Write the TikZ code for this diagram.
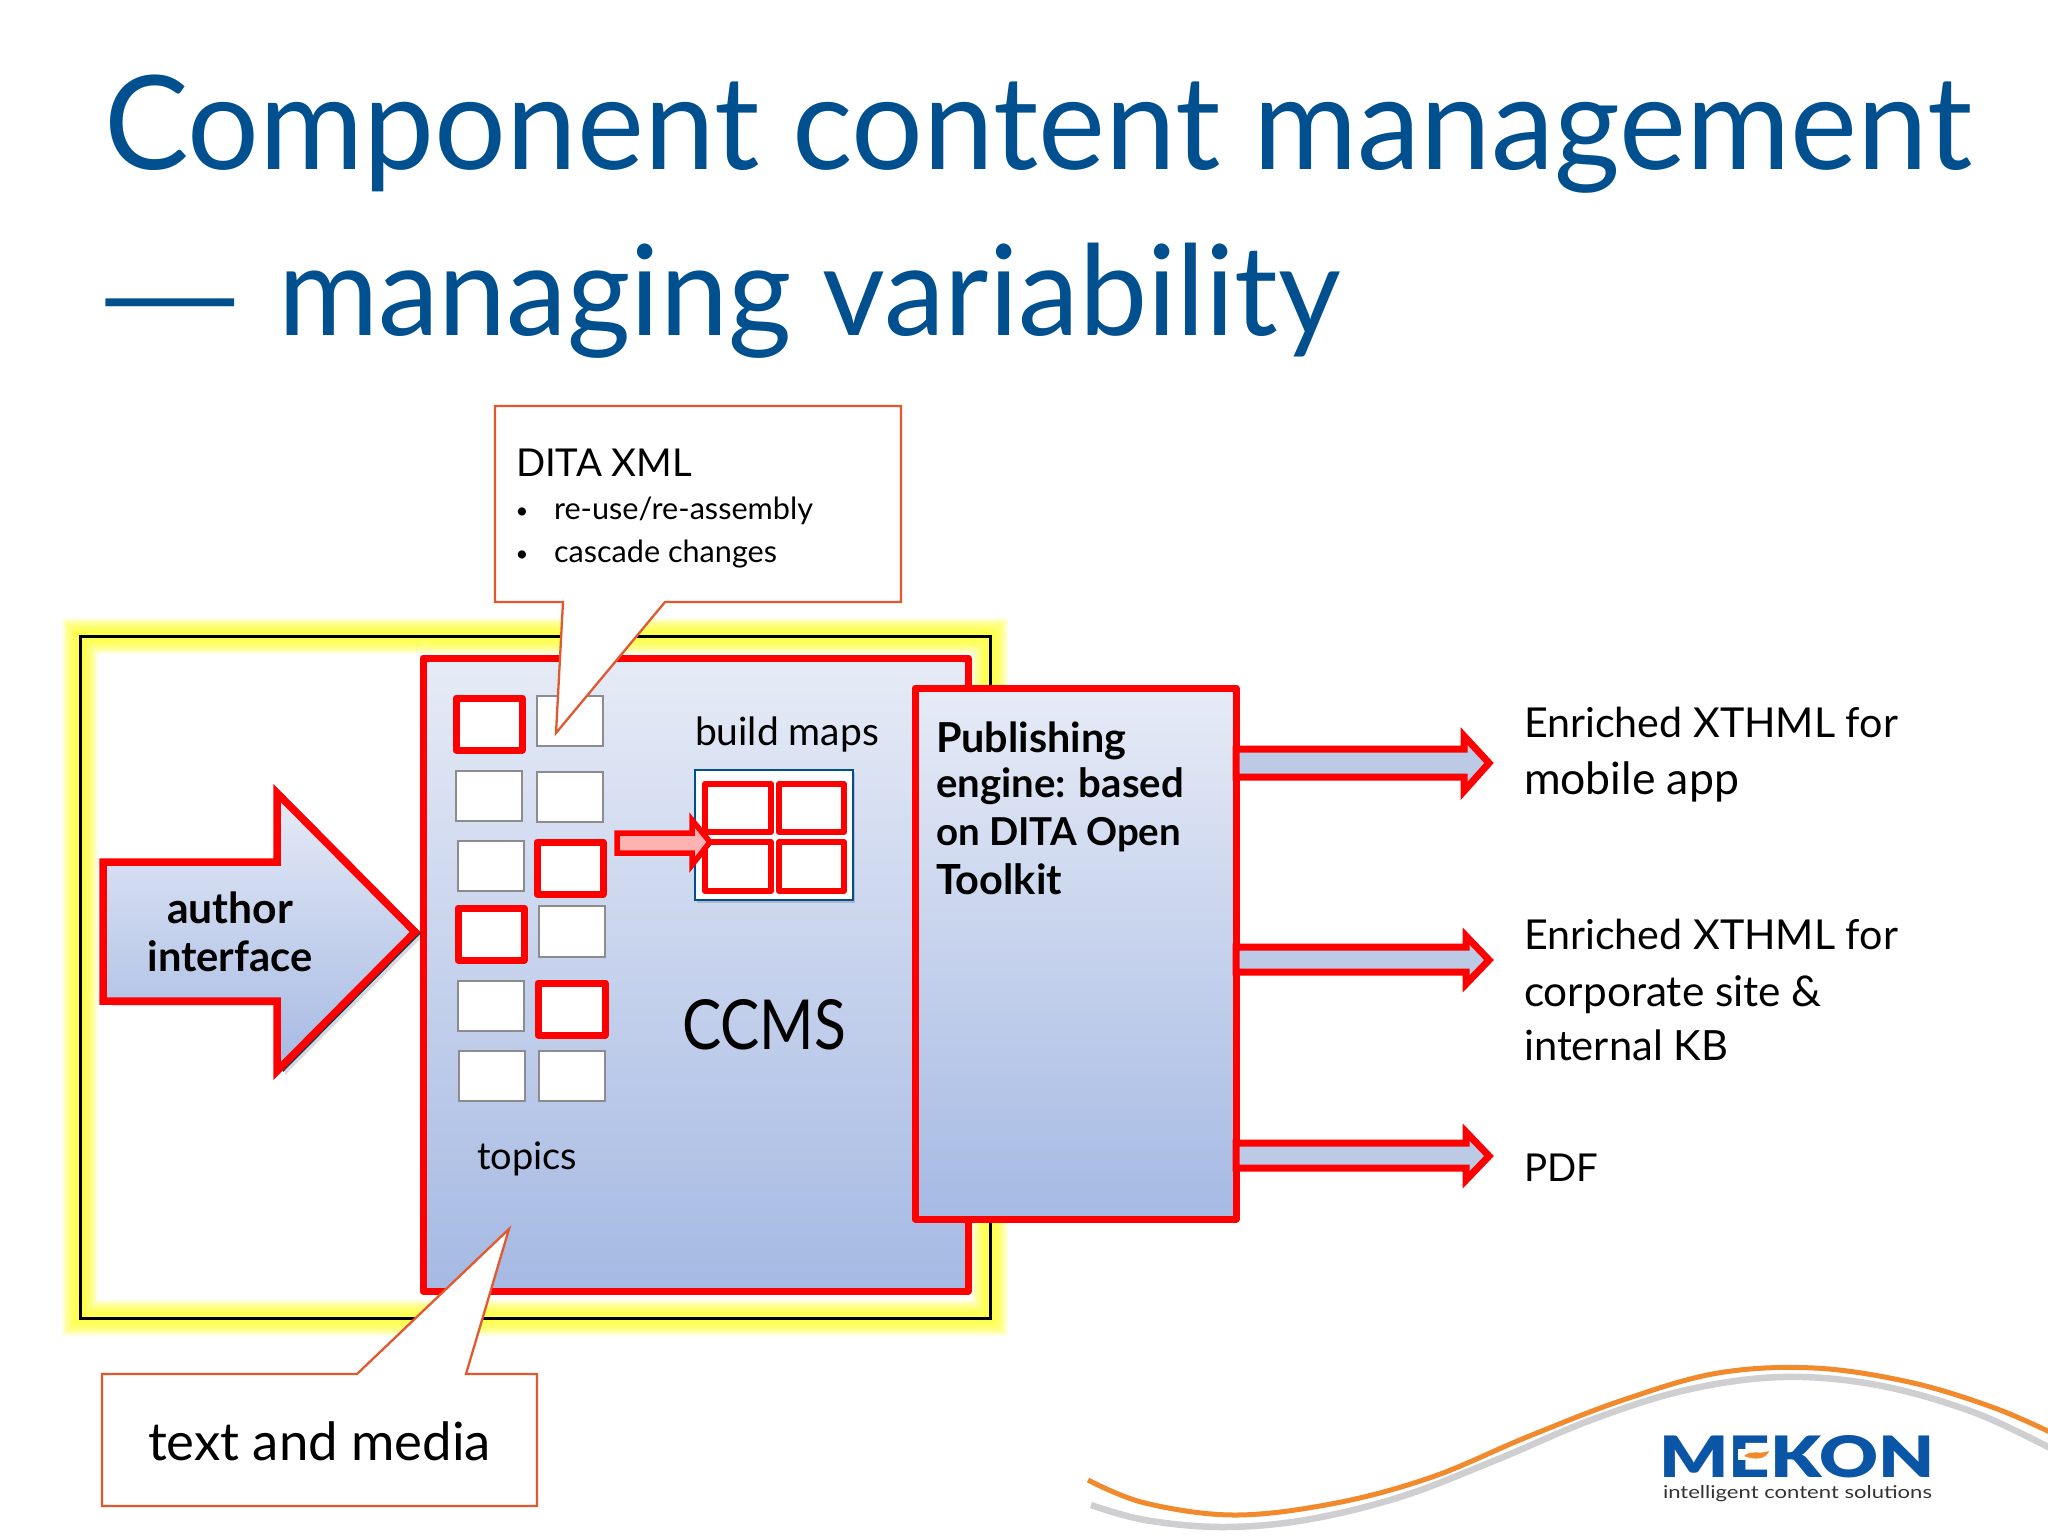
\documentclass[tikz,border=0pt]{standalone}
\usepackage{fontspec}
\usepackage{graphicx}
\setmainfont{Lato}
\newfontfamily\heavyfont{Lato Black}
\usetikzlibrary{shadows}
\definecolor{titleblue}{HTML}{00508F}
\definecolor{boxtop}{HTML}{E6EBF6}
\definecolor{boxbot}{HTML}{A5B9E3}
\definecolor{callout}{HTML}{E2592F}
\definecolor{shaft}{HTML}{BCCAE6}
\definecolor{logoblue}{HTML}{0A55A5}
\definecolor{swoosh}{HTML}{F08A2C}
\definecolor{swgray}{HTML}{CFCFD2}
\definecolor{glow}{HTML}{FFFF30}
\tikzset{
  softshadow/.style={drop shadow={shadow xshift=2pt,shadow yshift=-3pt,opacity=.15,fill=black}},
  redbox/.style={draw=red,line width=7pt,top color=boxtop,bottom color=boxbot,line join=round,softshadow},
  blockarrow/.style={draw=red,line width=7pt,fill=shaft,line join=miter,softshadow},
  graysq/.style={draw=gray!90,line width=2.5pt,fill=white},
  redsq/.style={draw=red,line width=7pt,fill=white,line join=round},
  mapsq/.style={draw=red,line width=6pt,fill=white,line join=round},
  mapbox/.style={draw=titleblue,line width=2.5pt,fill=white,softshadow},
  calloutshape/.style={draw=callout,line width=2.3pt,fill=white,line join=miter},
  base/.style={anchor=base west,inner sep=0pt,outer sep=0pt},
  framebox/.style={draw=black,line width=3pt,inner sep=0pt,outer sep=0pt},
  anybox/.style={inner sep=0pt,outer sep=0pt}
}
\newcommand{\placebox}[6]{\node[anybox,#2,anchor=north west,minimum width={(#5-#3)*1pt},minimum height={(#6-#4)*1pt}] (#1) at (#3,#4) {};}
\newcommand{\fit}[3]{\resizebox{#1pt}{!}{\fontsize{#2}{#2}\selectfont #3}}
\newcommand{\outarrow}[7]{\path[blockarrow] (pub.east |- 0,#2) -- (#4,#2) -- (#4,#3) -- (#5,#1) -- (#4,#6) -- (#4,#7) -- (pub.east |- 0,#7) -- cycle;}
\begin{document}
\begin{tikzpicture}[x=1pt,y=-1pt]
\useasboundingbox (0,0) rectangle (2048,1536);
\fill[white] (0,0) rectangle (2048,1536);
% title
\node[base,text=titleblue] (title1) at (104,169) {\scalebox{1}[1.03]{\fit{1868}{100}{Component content management}}};
\node[base,text=titleblue] (titledash) at (93,338) {\scalebox{1.6}[1]{\fit{96}{100}{—}}};
\node[base,text=titleblue] (title2) at (278,335) {\scalebox{1}[1.03]{\fit{1063}{100}{managing variability}}};
% yellow frame
\foreach \w in {36,34,32,30,28,26,24,22,20,18,16,14,12,10,8}{
  \draw[glow,line width=\w pt,opacity=.11] (80,636) rectangle (990,1318);
}
\placebox{frame}{framebox}{80}{636}{990}{1318}
% ccms
\placebox{ccms}{redbox}{423}{658}{968}{1291}
% author arrow
\path[fill=titleblue!70!black,softshadow] (110,864) -- (283,864) -- (283,794) -- (421,933) -- (283,1072) -- (283,1003) -- (110,1003) -- cycle;
\path[draw=red,line width=7.5pt,top color=boxtop,bottom color=boxbot,line join=miter] (103,862) -- (277,862) -- (277,793) -- (415,932) -- (277,1071) -- (277,1001) -- (103,1001) -- cycle;
\node[anybox,font=\bfseries,anchor=base] (auth1) at (230,923) {\fit{126}{38}{author}};
\node[anybox,font=\bfseries,anchor=base] (auth2) at (230,971) {\fit{165}{38}{interface}};
% topic squares
\placebox{t11}{redsq}{456}{698}{522}{750}
\placebox{t12}{graysq}{537}{696}{603}{746}
\placebox{t21}{graysq}{456}{771}{522}{821}
\placebox{t22}{graysq}{537}{772}{603}{822}
\placebox{t31}{graysq}{458}{841}{524}{891}
\placebox{t32}{redsq}{537}{842}{603}{894}
\placebox{t41}{redsq}{458}{908}{524}{960}
\placebox{t42}{graysq}{539}{906}{605}{957}
\placebox{t51}{graysq}{458}{981}{524}{1031}
\placebox{t52}{redsq}{538}{983}{605}{1035}
\placebox{t61}{graysq}{459}{1051}{525}{1101}
\placebox{t62}{graysq}{539}{1051}{605}{1101}
\node[base] (topics) at (477,1169) {\fit{100}{36}{topics}};
% build map
\node[base] (buildmaps) at (695,745) {\fit{184}{36}{build maps}};
\placebox{map}{mapbox}{695}{770}{853}{900}
\placebox{m11}{mapsq}{705}{784}{771}{832}
\placebox{m12}{mapsq}{779}{784}{844}{832}
\placebox{m21}{mapsq}{705}{842}{771}{891}
\placebox{m22}{mapsq}{779}{842}{844}{891}
\path[draw=red,line width=5.5pt,fill=red!30,line join=miter] (617,833) -- (692,833) -- (692,820) -- (710,842) -- (692,865) -- (692,853) -- (617,853) -- cycle;
\node[base] (ccmslabel) at (682,1049) {\resizebox{164pt}{50pt}{\fontsize{64}{64}\selectfont CCMS}};
% publishing engine
\placebox{pub}{redbox}{915}{688}{1236}{1219}
\node[base,font=\bfseries] (pub1) at (936,752) {\fit{190}{36}{Publishing}};
\node[base,font=\bfseries] (pub2) at (936,797) {\fit{248}{36}{engine: based}};
\node[base,font=\bfseries] (pub3) at (936,845) {\fit{245}{36}{on DITA Open}};
\node[base,font=\bfseries] (pub4) at (936,894) {\fit{126}{36}{Toolkit}};
% output arrows
\outarrow{763}{749}{736}{1464}{1489}{791}{777}
\outarrow{960}{947}{936}{1466}{1489}{984}{972}
\outarrow{1156}{1143}{1132}{1466}{1489}{1180}{1168}
% output labels
\node[base] (o1) at (1524,737) {\fit{374}{42}{Enriched XTHML for}};
\node[base] (o2) at (1524,794) {\fit{215}{42}{mobile app}};
\node[base] (o3) at (1524,949) {\fit{374}{42}{Enriched XTHML for}};
\node[base] (o4) at (1524,1006) {\fit{298}{42}{corporate site \&}};
\node[base] (o5) at (1524,1060) {\fit{204}{42}{internal KB}};
\node[base] (o6) at (1524,1181) {\fit{74}{42}{PDF}};
% top callout
\path[calloutshape] (495,406) -- (901,406) -- (901,602) -- (665,602) -- (556,733) -- (563,602) -- (495,602) -- cycle;
\node[base] (dita) at (516,476) {\fit{176}{38}{DITA XML}};
\node[anybox,anchor=base] (b1) at (522,518) {\fontsize{22}{22}\selectfont •};
\node[base] (dita1) at (554,519) {\fit{259}{30}{re-use/re-assembly}};
\node[anybox,anchor=base] (b2) at (522,561) {\fontsize{22}{22}\selectfont •};
\node[base] (dita2) at (554,562) {\fit{223}{30}{cascade changes}};
% bottom callout
\path[calloutshape] (102,1374) -- (357,1374) -- (509,1229) -- (466,1374) -- (537,1374) -- (537,1506) -- (102,1506) -- cycle;
\node[base] (media) at (148,1460) {\fit{343}{50}{text and media}};
% swooshes
\draw[swgray,line width=6.5pt] plot[smooth,tension=.6] coordinates {(1091,1505) (1145,1520) (1222,1527) (1305,1520) (1400,1497) (1496,1460) (1591,1420) (1686,1390) (1782,1377) (1877,1385) (1973,1412) (2052,1449)};
\draw[swoosh,line width=5pt] plot[smooth,tension=.6] coordinates {(1088,1480) (1145,1503) (1235,1515) (1336,1503) (1432,1477) (1527,1437) (1623,1400) (1718,1373) (1814,1368) (1909,1382) (1992,1407) (2052,1433)};
% logo
\node[base,text=logoblue] (logo) at (1659,1477) {\resizebox{275pt}{42pt}{\heavyfont MEKON}};
\fill[white] (1738,1449) rectangle (1772,1460);
\fill[swoosh] (1744,1456) .. controls (1752,1449) and (1758,1455) .. (1769,1451) .. controls (1766,1460) and (1754,1460) .. (1744,1456) -- cycle;
\node[base,text=black!80] (tagline) at (1663,1498) {\resizebox{269pt}{13pt}{\fontsize{20}{20}\selectfont intelligent content solutions}};
\end{tikzpicture}
\end{document}
